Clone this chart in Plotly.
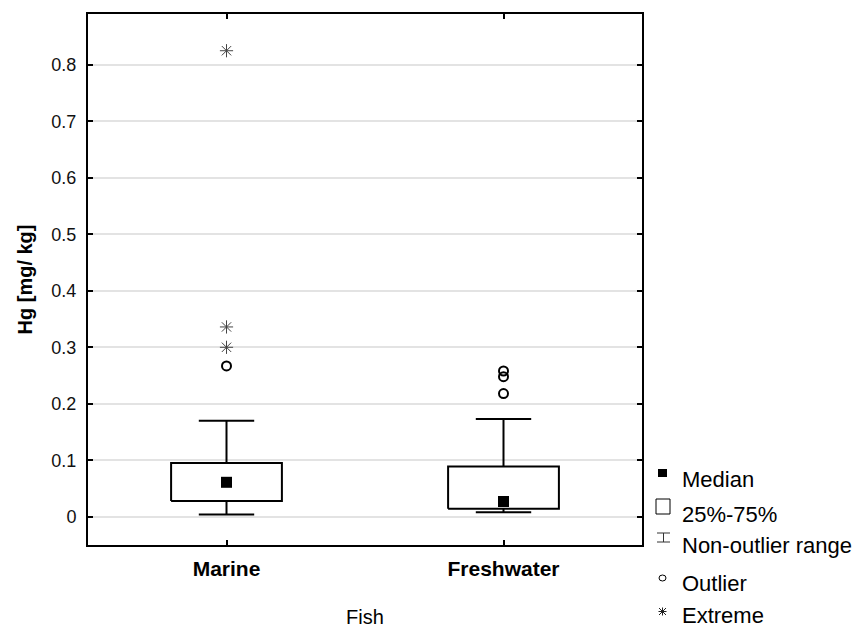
import plotly.graph_objects as go

# ---- data ----
categories = ["Marine", "Freshwater"]
q1 = [0.028, 0.014]
median = [0.061, 0.027]
q3 = [0.095, 0.089]
whisker_low = [0.004, 0.008]
whisker_high = [0.170, 0.173]
outliers = [[0.267], [0.218, 0.248, 0.258]]
extremes = [[0.300, 0.336, 0.825], []]
y_ticks = [0, 0.1, 0.2, 0.3, 0.4, 0.5, 0.6, 0.7, 0.8]
legend_labels = ["Median", "25%-75%", "Non-outlier range", "Outlier", "Extreme"]

# ---- layout constants ----
W, H = 864, 628
ML, MR, MT, MB = 88, 222, 14, 83
PW, PH = W - ML - MR, H - MT - MB
BOX_HW = 0.2
CAP_HW = 0.1
FONT = "Liberation Sans, Arial, sans-serif"

pos = list(range(len(categories)))

fig = go.Figure()

# boxes
bx, by = [], []
for i, c in enumerate(pos):
    bx += [c - BOX_HW, c + BOX_HW, c + BOX_HW, c - BOX_HW, c - BOX_HW, None]
    by += [q1[i], q1[i], q3[i], q3[i], q1[i], None]
fig.add_trace(go.Scatter(x=bx, y=by, mode="lines", line=dict(color="black", width=2),
                         showlegend=False, hoverinfo="skip"))

# whiskers
wx, wy = [], []
for i, c in enumerate(pos):
    wx += [c, c, None, c - CAP_HW, c + CAP_HW, None, c, c, None, c - CAP_HW, c + CAP_HW, None]
    wy += [q3[i], whisker_high[i], None, whisker_high[i], whisker_high[i], None,
           q1[i], whisker_low[i], None, whisker_low[i], whisker_low[i], None]
fig.add_trace(go.Scatter(x=wx, y=wy, mode="lines", line=dict(color="black", width=2),
                         showlegend=False, hoverinfo="skip"))

# medians
fig.add_trace(go.Scatter(x=pos, y=median, mode="markers",
                         marker=dict(symbol="square", size=11, color="black"),
                         showlegend=False))

# outliers
ox, oy = [], []
for i, c in enumerate(pos):
    ox += [c] * len(outliers[i])
    oy += outliers[i]
fig.add_trace(go.Scatter(x=ox, y=oy, mode="markers",
                         marker=dict(symbol="circle-open", size=9, color="black",
                                     line=dict(width=2, color="black")),
                         showlegend=False))

# extremes
ex, ey = [], []
for i, c in enumerate(pos):
    ex += [c] * len(extremes[i])
    ey += extremes[i]
fig.add_trace(go.Scatter(x=ex, y=ey, mode="markers",
                         marker=dict(symbol="asterisk-open", size=11, color="#444",
                                     line=dict(width=1, color="#444")),
                         showlegend=False))

# ---- custom legend in right margin (pixel -> paper helpers) ----
def px_x(p):
    return (p - ML) / PW

def px_y(p):
    return (H - MB - p) / PH

shapes = []
annotations = []
text_x = 680
text_y = [479, 514, 545, 583, 615]
for lbl, ty in zip(legend_labels, text_y):
    annotations.append(dict(x=px_x(text_x), y=px_y(ty), xref="paper", yref="paper",
                            text=lbl, showarrow=False, xanchor="left", yanchor="middle",
                            font=dict(family=FONT, size=22, color="black")))

# median glyph
shapes.append(dict(type="rect", xref="paper", yref="paper",
                   x0=px_x(658), x1=px_x(667), y0=px_y(477), y1=px_y(469),
                   fillcolor="black", line=dict(width=0)))
# box glyph
shapes.append(dict(type="rect", xref="paper", yref="paper",
                   x0=px_x(656), x1=px_x(670), y0=px_y(514), y1=px_y(499),
                   fillcolor="white", line=dict(width=1, color="black")))
# I-beam glyph
for (x0, y0, x1, y1) in [(657, 533, 670, 533), (657, 542, 670, 542), (663.5, 533, 663.5, 542)]:
    shapes.append(dict(type="line", xref="paper", yref="paper",
                       x0=px_x(x0), x1=px_x(x1), y0=px_y(y0), y1=px_y(y1),
                       line=dict(width=1, color="#333")))
# outlier glyph
shapes.append(dict(type="circle", xref="paper", yref="paper",
                   x0=px_x(659), x1=px_x(666), y0=px_y(581), y1=px_y(575),
                   line=dict(width=1, color="black")))
# extreme glyph (asterisk)
cx, cy = 662.5, 611.5
for (dx0, dy0, dx1, dy1) in [(-4, 0, 4, 0), (0, -4, 0, 4), (-3.5, -3.5, 3.5, 3.5), (-3.5, 3.5, 3.5, -3.5)]:
    shapes.append(dict(type="line", xref="paper", yref="paper",
                       x0=px_x(cx + dx0), x1=px_x(cx + dx1), y0=px_y(cy + dy0), y1=px_y(cy + dy1),
                       line=dict(width=1, color="#222")))

fig.update_layout(
    width=W, height=H,
    margin=dict(l=ML, r=MR, t=MT, b=MB, pad=0),
    paper_bgcolor="white", plot_bgcolor="white",
    font=dict(family=FONT, color="black"),
    showlegend=False,
    shapes=shapes,
    annotations=annotations,
    xaxis=dict(
        range=[-0.5, 1.5], tickmode="array", tickvals=pos,
        ticktext=["<b>%s</b>" % c for c in categories],
        tickfont=dict(family=FONT, size=21, color="black"),
        ticks="inside", ticklen=5, tickwidth=2, tickcolor="black",
        showline=True, linecolor="black", linewidth=2, mirror="ticks",
        showgrid=False, zeroline=False, ticklabelstandoff=4, automargin=False,
        title=dict(text="Fish", font=dict(family=FONT, size=20, color="black"), standoff=33),
    ),
    yaxis=dict(
        range=[-0.05, 0.89], tickmode="array", tickvals=y_ticks,
        ticktext=[("%g" % v) for v in y_ticks],
        tickfont=dict(family=FONT, size=18, color="#111"),
        ticks="inside", ticklen=5, tickwidth=2, tickcolor="black",
        showline=True, linecolor="black", linewidth=2, mirror="ticks",
        showgrid=True, gridcolor="#e3e3e3", gridwidth=2, zeroline=False,
        ticklabelstandoff=6, automargin=False,
        title=dict(text="<b>Hg [mg/ kg]</b>", font=dict(family=FONT, size=20, color="black"), standoff=13),
    ),
)

fig.write_html("out.html", config={"displayModeBar": False},
               post_script="document.body.style.margin='0';document.body.style.overflow='hidden';")
